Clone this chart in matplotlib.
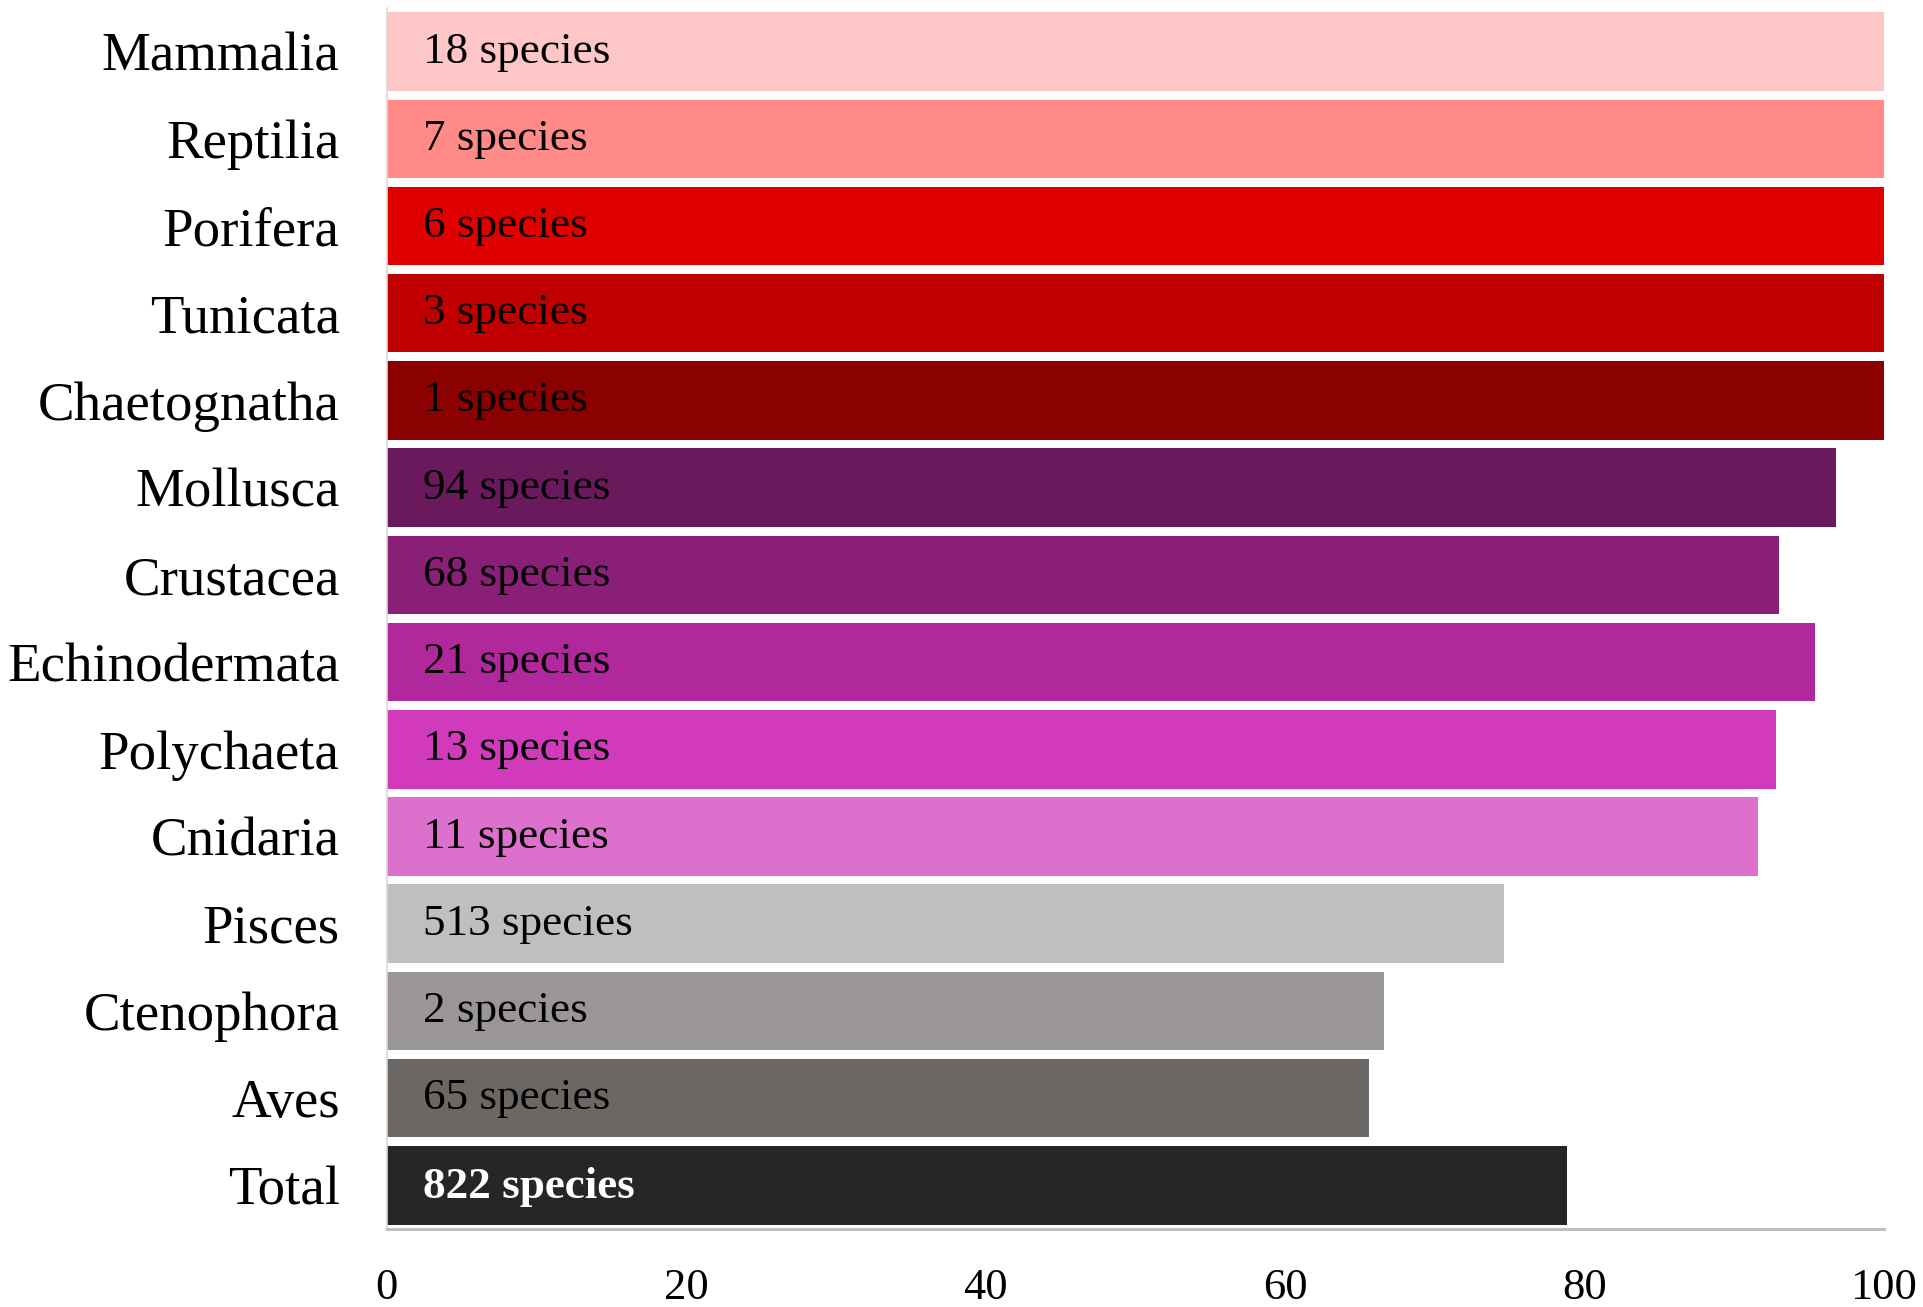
import numpy as np
import matplotlib.pyplot as plt

# categories from top to bottom
groups = ['Mammalia', 'Reptilia', 'Porifera', 'Tunicata', 'Chaetognatha',
          'Mollusca', 'Crustacea', 'Echinodermata', 'Polychaeta', 'Cnidaria',
          'Pisces', 'Ctenophora', 'Aves', 'Total']
values = [100, 100, 100, 100, 100,
          96.8, 93.0, 95.4, 92.8, 91.6,
          74.6, 66.6, 65.6, 78.8]
species = [18, 7, 6, 3, 1, 94, 68, 21, 13, 11, 513, 2, 65, 822]
colors = ['#FFC6C7', '#FF8A88', '#E00000', '#C00000', '#8B0000',
          '#6A1A5C', '#891F77', '#B0289C', '#D13BBB', '#DC70CC',
          '#C0BEBF', '#9A9695', '#6B6765', '#282526']
xticks = [0, 20, 40, 60, 80, 100]

plt.rcParams['font.family'] = ['Liberation Serif', 'DejaVu Serif']

fig = plt.figure(figsize=(19.24, 13.07), dpi=100)
ax = fig.add_axes([0.2011, 0.0597, 0.9792 - 0.2011, 0.9939 - 0.0597])

n = len(groups)
y = np.arange(n)[::-1]  # first group on top
ax.barh(y, values, height=0.9, color=colors, edgecolor='none')

for yi, sp, g in zip(y, species, groups):
    if g == 'Total':
        ax.text(2.4, yi - 0.02, f'{sp} species', va='center', ha='left',
                fontsize=32.5, color='white', fontweight='bold')
    else:
        ax.text(2.4, yi, f'{sp} species', va='center', ha='left',
                fontsize=32.5, color='black')

ax.set_xlim(0, 100)
ax.set_ylim(-0.5, n - 0.5)
ax.set_yticks(y)
ax.set_yticklabels(groups, fontsize=39.5)
ax.set_xticks(xticks)
ax.set_xticklabels([str(t) for t in xticks], fontsize=32)
ax.tick_params(axis='y', length=0, pad=34)
ax.tick_params(axis='x', length=0, pad=28)

for s in ['top', 'right']:
    ax.spines[s].set_visible(False)
ax.spines['left'].set_color('#d9d9d9')
ax.spines['left'].set_linewidth(1.2)
ax.spines['bottom'].set_color('#bfbfbf')
ax.spines['bottom'].set_linewidth(2.2)

fig.savefig('out.png', dpi=100)
